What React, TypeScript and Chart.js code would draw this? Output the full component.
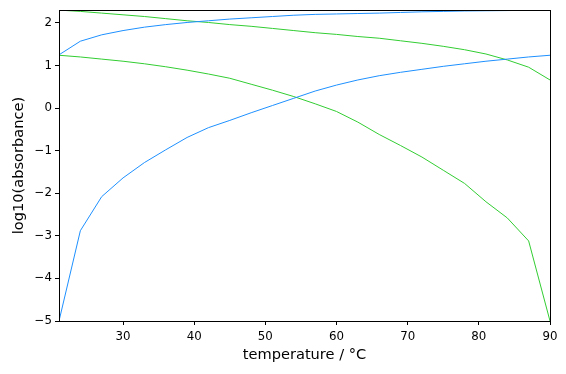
import React, { useEffect, useRef } from "react";
import { Chart, registerables } from "chart.js";

Chart.register(...registerables);

const temperatures = [21, 24, 27, 30, 33, 36, 39, 42, 45, 48, 51, 54, 57, 60, 63, 66, 69, 72, 75, 78, 81, 84, 87, 90];

const blueLow = [-5.0, -2.88, -2.08, -1.64, -1.28, -0.98, -0.69, -0.46, -0.29, -0.11, 0.06, 0.23, 0.40, 0.54, 0.66, 0.76, 0.84, 0.91, 0.98, 1.04, 1.10, 1.15, 1.20, 1.24];
const blueHigh = [1.25, 1.57, 1.72, 1.82, 1.90, 1.96, 2.01, 2.05, 2.09, 2.12, 2.15, 2.18, 2.20, 2.21, 2.22, 2.23, 2.245, 2.26, 2.27, 2.28, 2.285, 2.29, 2.295, 2.30];
const greenHigh = [2.30, 2.27, 2.23, 2.19, 2.15, 2.10, 2.05, 2.01, 1.96, 1.92, 1.87, 1.82, 1.77, 1.73, 1.68, 1.64, 1.58, 1.52, 1.45, 1.37, 1.27, 1.13, 0.96, 0.66];
const greenLow = [1.24, 1.20, 1.15, 1.10, 1.04, 0.97, 0.89, 0.80, 0.70, 0.56, 0.42, 0.27, 0.10, -0.08, -0.33, -0.62, -0.88, -1.15, -1.46, -1.77, -2.20, -2.58, -3.12, -5.0];

const xTicks = [30, 40, 50, 60, 70, 80, 90];
const yTicks = [-5, -4, -3, -2, -1, 0, 1, 2];

const BLUE = "#1e90ff";
const GREEN = "#32cd32";

const frame = {
  id: "frame",
  afterDatasetsDraw(chart: any) {
    const { ctx, chartArea } = chart;
    ctx.save();
    ctx.strokeStyle = "#000";
    ctx.lineWidth = 1;
    ctx.strokeRect(Math.round(chartArea.left) + 0.5, Math.round(chartArea.top) + 0.5,
      Math.round(chartArea.right - chartArea.left), Math.round(chartArea.bottom - chartArea.top));
    ctx.restore();
  },
};

export default function App() {
  const ref = useRef<HTMLCanvasElement | null>(null);
  useEffect(() => {
    document.body.style.margin = "0";
    const mk = (d: number[]) => temperatures.map((t, i) => ({ x: t, y: d[i] }));
    const ds = (data: number[], color: string) => ({
      data: mk(data),
      borderColor: color,
      backgroundColor: color,
      borderWidth: 1,
      pointRadius: 0,
      tension: 0,
      fill: false,
    });
    const chart = new Chart(ref.current!, {
      type: "line",
      data: {
        datasets: [ds(blueLow, BLUE), ds(blueHigh, BLUE), ds(greenHigh, GREEN), ds(greenLow, GREEN)],
      },
      options: {
        animation: false,
        responsive: false,
        devicePixelRatio: 1,
        layout: { padding: { top: 9, right: 16, left: 0, bottom: 0 } },
        plugins: { legend: { display: false }, tooltip: { enabled: false } },
        scales: {
          x: {
            type: "linear",
            min: 21,
            max: 90,
            afterBuildTicks: (s: any) => { s.ticks = xTicks.map((v) => ({ value: v })); },
            afterFit: (s: any) => { s.height = 53; },
            grid: { drawOnChartArea: false, drawTicks: true, tickLength: 4, color: "#000" },
            border: { display: true, color: "#000", width: 1 },
            ticks: { color: "#000", font: { family: "DejaVu Sans", size: 11.8 }, padding: 5, maxRotation: 0 },
            title: { display: true, text: "temperature / °C", color: "#000", font: { family: "DejaVu Sans", size: 14.6 }, padding: { top: 0, bottom: 10 } },
          },
          y: {
            type: "linear",
            min: -5,
            max: 2.301,
            afterBuildTicks: (s: any) => { s.ticks = yTicks.map((v) => ({ value: v })); },
            afterFit: (s: any) => { s.width = 59; },
            grid: { drawOnChartArea: false, drawTicks: true, tickLength: 4, color: "#000" },
            border: { display: true, color: "#000", width: 1 },
            ticks: {
              color: "#000",
              font: { family: "DejaVu Sans", size: 11.8 },
              padding: 3,
              callback: (v: any) => String(v).replace("-", "\u2212"),
            },
            title: { display: true, text: "log10(absorbance)", color: "#000", font: { family: "DejaVu Sans", size: 14.6 }, padding: { top: 10, bottom: 0 } },
          },
        },
      },
      plugins: [frame],
    });
    return () => chart.destroy();
  }, []);
  return (
    <div style={{ width: 566, height: 374 }}>
      <canvas ref={ref} width={566} height={374} style={{ display: "block" }} />
    </div>
  );
}
